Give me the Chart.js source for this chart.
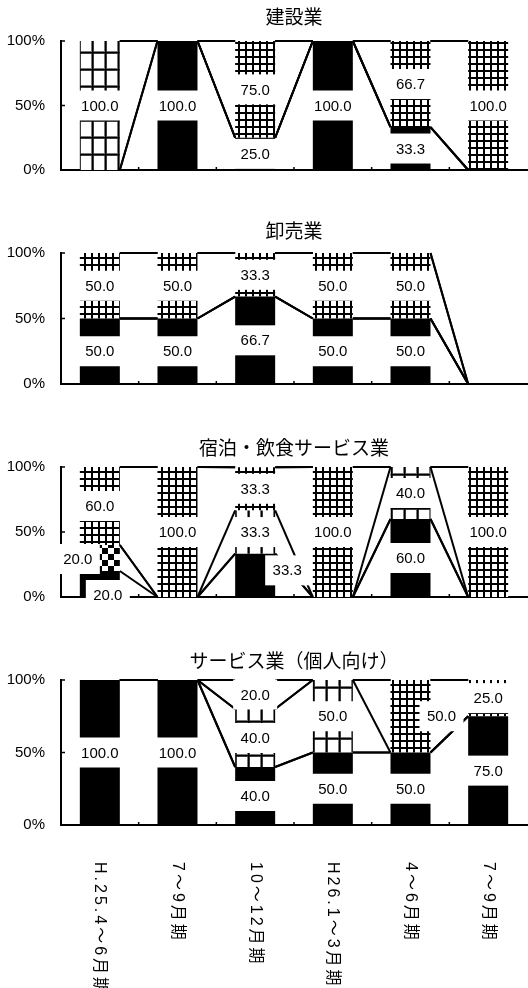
<!DOCTYPE html>
<html><head><meta charset="utf-8">
<script src="https://cdn.jsdelivr.net/npm/chart.js@4/dist/chart.umd.min.js"></script>
<style>
html,body{margin:0;padding:0;background:#fff;width:528px;height:988px;overflow:hidden}
canvas{position:absolute;left:0}
</style></head><body>
<canvas id="c0"></canvas><canvas id="c1"></canvas><canvas id="c2"></canvas><canvas id="c3"></canvas>
<script>
// ---------- data ----------
const categories = ['H.25.4～6月期', '7～9月期', '10～12月期', 'H26.1～3月期', '4～6月期', '7～9月期'];
const panelTitles = ['建設業', '卸売業', '宿泊・飲食サービス業', 'サービス業（個人向け）'];
const seriesNames = ['系列1', '系列2', '系列3', '系列4', '系列5'];
const yTickValues = [0, 50, 100];

const constructionS1 = [0, 100, 25, 100, 33.3, 0];
const constructionS2 = [0, 0, 0, 0, 0, 0];
const constructionS3 = [100, 0, 0, 0, 0, 0];
const constructionS4 = [0, 0, 75, 0, 66.7, 100];
const constructionS5 = [0, 0, 0, 0, 0, 0];

const wholesaleS1 = [50, 50, 66.7, 50, 50, 0];
const wholesaleS2 = [0, 0, 0, 0, 0, 0];
const wholesaleS3 = [0, 0, 0, 0, 0, 0];
const wholesaleS4 = [50, 50, 33.3, 50, 50, 0];
const wholesaleS5 = [0, 0, 0, 0, 0, 0];

const hospitalityS1 = [20, 0, 33.3, 0, 60, 0];
const hospitalityS2 = [20, 0, 0, 0, 0, 0];
const hospitalityS3 = [0, 0, 33.3, 0, 40, 0];
const hospitalityS4 = [60, 100, 33.3, 100, 0, 100];
const hospitalityS5 = [0, 0, 0, 0, 0, 0];

const personalS1 = [100, 100, 40, 50, 50, 75];
const personalS2 = [0, 0, 0, 0, 0, 0];
const personalS3 = [0, 0, 40, 50, 0, 0];
const personalS4 = [0, 0, 0, 0, 50, 25];
const personalS5 = [0, 0, 20, 0, 0, 0];

const panelSeries = [
  [constructionS1, constructionS2, constructionS3, constructionS4, constructionS5],
  [wholesaleS1, wholesaleS2, wholesaleS3, wholesaleS4, wholesaleS5],
  [hospitalityS1, hospitalityS2, hospitalityS3, hospitalityS4, hospitalityS5],
  [personalS1, personalS2, personalS3, personalS4, personalS5]
];

// ---------- layout / style ----------
const layoutBoxes = [
  {top: 0,   height: 195, plotTop: 41,  plotBottom: 185, titleGap: 24},
  {top: 208, height: 201, plotTop: 253, plotBottom: 399, titleGap: 22},
  {top: 422, height: 200, plotTop: 467, plotBottom: 612, titleGap: 19},
  {top: 635, height: 353, plotTop: 680, plotBottom: 825, titleGap: 19}
];
// manual label nudges (panel-series-category): [dx, dy]
const labelNudge = {'2-0-0': [8, 11], '2-1-0': [-22, 1], '2-0-2': [32, -5], '3-3-4': [31, 0]};

const LATIN = '"Liberation Sans", "Noto Sans CJK JP", sans-serif';
const CJK = '"Noto Sans CJK JP", "Liberation Sans", sans-serif';

function makePattern(kind) {
  const c = document.createElement('canvas');
  let g;
  if (kind === 'solid') return '#000';
  if (kind === 'checker') {
    c.width = c.height = 12; g = c.getContext('2d');
    g.fillStyle = '#fff'; g.fillRect(0, 0, 12, 12);
    g.fillStyle = '#000'; g.fillRect(0, 0, 6, 6); g.fillRect(6, 6, 6, 6);
  } else if (kind === 'fine') {
    c.width = c.height = 7; g = c.getContext('2d');
    g.fillStyle = '#fff'; g.fillRect(0, 0, 7, 7);
    g.fillStyle = '#000'; g.fillRect(0, 0, 7, 2); g.fillRect(0, 0, 2, 7);
  } else if (kind === 'coarse') {
    c.width = 13; c.height = 17; g = c.getContext('2d');
    g.fillStyle = '#fff'; g.fillRect(0, 0, 13, 17);
    g.fillStyle = '#777'; g.fillRect(0, 0, 13, 3); g.fillRect(0, 0, 3, 17);
    g.fillStyle = '#000'; g.fillRect(0, 1, 13, 1.5); g.fillRect(1, 0, 1.5, 17);
  } else if (kind === 'coarse2') {
    c.width = 13; c.height = 15; g = c.getContext('2d');
    g.fillStyle = '#fff'; g.fillRect(0, 0, 13, 15);
    g.fillStyle = '#000'; g.fillRect(0, 0, 13, 2); g.fillRect(0, 0, 2, 15);
  }
  return document.createElement('canvas').getContext('2d').createPattern(c, 'repeat');
}
const seriesFills = ['solid', 'checker', 'coarse', 'fine', 'coarse2'].map(makePattern);

function cumulative(datasets, i, j) {
  let s = 0;
  for (let k = 0; k <= i; k++) s += datasets[k].data[j] || 0;
  return s;
}

const decorPlugin = {
  id: 'decor',
  afterDraw(chart) {
    const ctx = chart.ctx, ys = chart.scales.y, xs = chart.scales.x;
    const ca = chart.chartArea, ds = chart.data.datasets, n = chart.data.labels.length;
    const p = chart.options.plugins.decor;
    ctx.save();
    // series lines
    ctx.strokeStyle = '#000'; ctx.lineWidth = 2;
    for (let i = 0; i < ds.length; i++) {
      const meta = chart.getDatasetMeta(i);
      for (let j = 0; j < n - 1; j++) {
        const a = meta.data[j], b = meta.data[j + 1];
        ctx.beginPath();
        ctx.moveTo(a.x + a.width / 2, ys.getPixelForValue(cumulative(ds, i, j)));
        ctx.lineTo(b.x - b.width / 2, ys.getPixelForValue(cumulative(ds, i, j + 1)));
        ctx.stroke();
      }
    }
    // inner tick marks
    ctx.lineWidth = 1.5;
    ys.ticks.forEach(t => {
      const y = ys.getPixelForValue(t.value);
      ctx.beginPath(); ctx.moveTo(ca.left, y); ctx.lineTo(ca.left + 4, y); ctx.stroke();
    });
    for (let j = 1; j < n; j++) {
      const x = (xs.getPixelForValue(j - 1) + xs.getPixelForValue(j)) / 2;
      ctx.beginPath(); ctx.moveTo(x, ca.bottom); ctx.lineTo(x, ca.bottom - 3); ctx.stroke();
    }
    // data labels
    ctx.font = '15px ' + LATIN;
    ctx.textAlign = 'center'; ctx.textBaseline = 'middle';
    for (let i = 0; i < ds.length; i++) {
      const meta = chart.getDatasetMeta(i);
      ds[i].data.forEach((v, j) => {
        if (!v) return;
        const el = meta.data[j];
        const nd = labelNudge[p.index + '-' + i + '-' + j] || [0, 0];
        const cx = el.x + nd[0], cy = (el.y + el.base) / 2 + nd[1];
        const txt = v.toFixed(1);
        const w = Math.max(ctx.measureText(txt).width + 12, 44), h = 30;
        ctx.fillStyle = '#fff'; ctx.fillRect(cx - w / 2, cy - h / 2, w, h);
        ctx.fillStyle = '#000'; ctx.fillText(txt, cx, cy + 1);
      });
    }
    // title
    ctx.font = '19px ' + CJK;
    ctx.fillStyle = '#000';
    ctx.fillText(p.title, (ca.left + ca.right) / 2, ca.top - p.titleGap);
    // vertical category labels (top-to-bottom)
    if (p.showCategories) {
      ctx.font = '16px ' + LATIN;
      ctx.textAlign = 'left'; ctx.textBaseline = 'middle';
      chart.data.labels.forEach((lab, j) => {
        const x = xs.getPixelForValue(j);
        ctx.save();
        ctx.translate(x, ca.bottom + 37);
        ctx.rotate(Math.PI / 2);
        let pos = 0;
        for (const ch of lab) {
          ctx.fillText(ch, pos, 0);
          pos += ctx.measureText(ch).width + 3;
        }
        ctx.restore();
      });
    }
    ctx.restore();
  }
};

panelSeries.forEach((series, pi) => {
  const L = layoutBoxes[pi];
  const cv = document.getElementById('c' + pi);
  cv.width = 528; cv.height = L.height; cv.style.top = L.top + 'px';
  new Chart(cv, {
    type: 'bar',
    data: {
      labels: categories,
      datasets: series.map((arr, si) => ({
        label: seriesNames[si],
        data: arr,
        backgroundColor: seriesFills[si],
        borderWidth: 0,
        categoryPercentage: 1,
        barPercentage: 0.515
      }))
    },
    options: {
      responsive: false,
      animation: false,
      layout: {padding: {top: L.plotTop - L.top, bottom: L.top + L.height - L.plotBottom, left: 0, right: 1}},
      plugins: {
        legend: {display: false},
        tooltip: {enabled: false},
        title: {display: false},
        decor: {index: pi, title: panelTitles[pi], titleGap: L.titleGap, showCategories: pi === 3}
      },
      scales: {
        x: {
          stacked: true, offset: true,
          grid: {display: false, drawTicks: false},
          border: {display: true, color: '#000', width: 2},
          ticks: {display: false}
        },
        y: {
          stacked: true, min: 0, max: 100,
          afterFit: s => { s.width = 61; },
          afterBuildTicks: s => { s.ticks = yTickValues.map(v => ({value: v})); },
          grid: {display: false, drawTicks: false},
          border: {display: true, color: '#000', width: 2},
          ticks: {
            padding: 16, color: '#000',
            font: {family: LATIN, size: 15},
            callback: v => v + '%'
          }
        }
      }
    },
    plugins: [decorPlugin]
  });
});
</script>
</body></html>
